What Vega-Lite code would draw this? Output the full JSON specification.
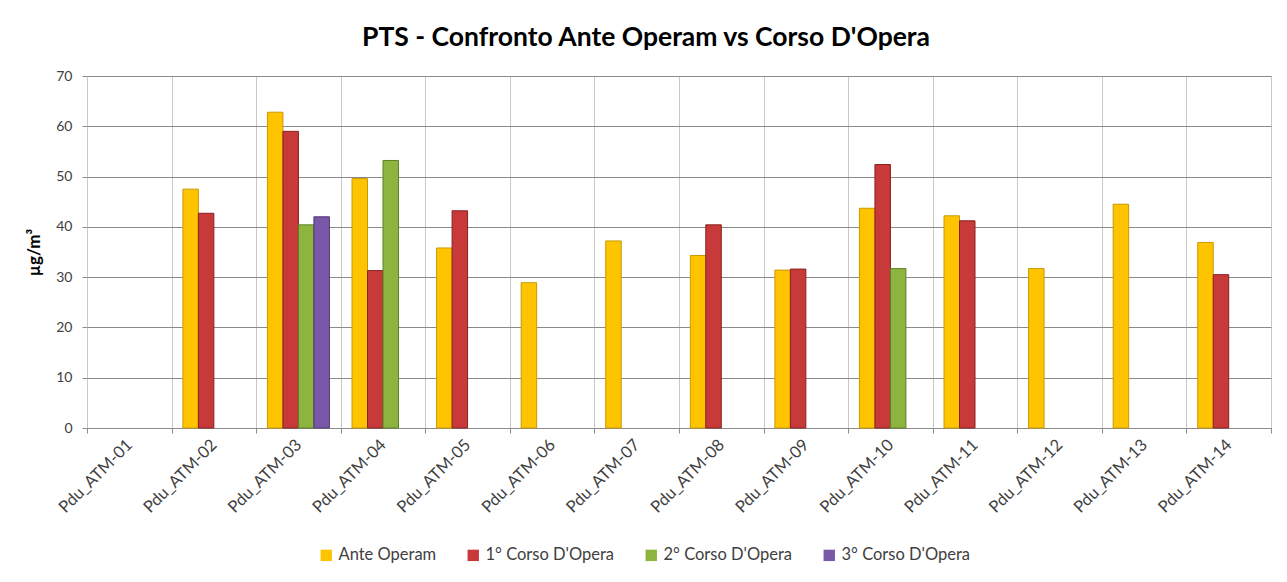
{
  "$schema": "https://vega.github.io/schema/vega-lite/v6.json",
  "width": 1184,
  "height": 352,
  "autosize": "none",
  "padding": {"left": 87, "top": 76, "right": 16, "bottom": 154},
  "background": "white",
  "title": {"text": "PTS - Confronto Ante Operam vs Corso D'Opera", "font": "Lato", "fontSize": 26.5, "fontWeight": "bold", "color": "#000000", "anchor": "middle", "offset": 18, "dx": -33},
  "data": {"values": [
    {"stazione": "Pdu_ATM-02", "serie": "Ante Operam", "valore": 47.5},
    {"stazione": "Pdu_ATM-02", "serie": "1° Corso D'Opera", "valore": 42.7},
    {"stazione": "Pdu_ATM-03", "serie": "Ante Operam", "valore": 62.8},
    {"stazione": "Pdu_ATM-03", "serie": "1° Corso D'Opera", "valore": 59.0},
    {"stazione": "Pdu_ATM-03", "serie": "2° Corso D'Opera", "valore": 40.4},
    {"stazione": "Pdu_ATM-03", "serie": "3° Corso D'Opera", "valore": 42.0},
    {"stazione": "Pdu_ATM-04", "serie": "Ante Operam", "valore": 49.6},
    {"stazione": "Pdu_ATM-04", "serie": "1° Corso D'Opera", "valore": 31.3},
    {"stazione": "Pdu_ATM-04", "serie": "2° Corso D'Opera", "valore": 53.2},
    {"stazione": "Pdu_ATM-05", "serie": "Ante Operam", "valore": 35.8},
    {"stazione": "Pdu_ATM-05", "serie": "1° Corso D'Opera", "valore": 43.2},
    {"stazione": "Pdu_ATM-06", "serie": "Ante Operam", "valore": 28.9},
    {"stazione": "Pdu_ATM-07", "serie": "Ante Operam", "valore": 37.2},
    {"stazione": "Pdu_ATM-08", "serie": "Ante Operam", "valore": 34.3},
    {"stazione": "Pdu_ATM-08", "serie": "1° Corso D'Opera", "valore": 40.4},
    {"stazione": "Pdu_ATM-09", "serie": "Ante Operam", "valore": 31.4},
    {"stazione": "Pdu_ATM-09", "serie": "1° Corso D'Opera", "valore": 31.6},
    {"stazione": "Pdu_ATM-10", "serie": "Ante Operam", "valore": 43.7},
    {"stazione": "Pdu_ATM-10", "serie": "1° Corso D'Opera", "valore": 52.4},
    {"stazione": "Pdu_ATM-10", "serie": "2° Corso D'Opera", "valore": 31.7},
    {"stazione": "Pdu_ATM-11", "serie": "Ante Operam", "valore": 42.2},
    {"stazione": "Pdu_ATM-11", "serie": "1° Corso D'Opera", "valore": 41.2},
    {"stazione": "Pdu_ATM-12", "serie": "Ante Operam", "valore": 31.7},
    {"stazione": "Pdu_ATM-13", "serie": "Ante Operam", "valore": 44.5},
    {"stazione": "Pdu_ATM-14", "serie": "Ante Operam", "valore": 36.9},
    {"stazione": "Pdu_ATM-14", "serie": "1° Corso D'Opera", "valore": 30.5}
  ]},
  "mark": {"type": "bar", "strokeWidth": 1},
  "encoding": {
    "x": {
      "field": "stazione", "type": "nominal",
      "scale": {"domain": ["Pdu_ATM-01","Pdu_ATM-02","Pdu_ATM-03","Pdu_ATM-04","Pdu_ATM-05","Pdu_ATM-06","Pdu_ATM-07","Pdu_ATM-08","Pdu_ATM-09","Pdu_ATM-10","Pdu_ATM-11","Pdu_ATM-12","Pdu_ATM-13","Pdu_ATM-14"], "paddingInner": 0, "paddingOuter": 0},
      "axis": {"title": null, "labelAngle": -45, "labelAlign": "right", "labelBaseline": "middle", "tickBand": "extent", "grid": true, "gridColor": "#c8c8c8", "gridWidth": 1, "domainColor": "#8c8c8c", "tickColor": "#8c8c8c", "tickSize": 5, "labelFont": "Lato", "labelFontSize": 16.5, "labelColor": "#404040", "labelPadding": 9}
    },
    "xOffset": {
      "field": "serie", "type": "nominal",
      "scale": {"domain": ["Ante Operam", "1° Corso D'Opera", "2° Corso D'Opera", "3° Corso D'Opera"], "paddingInner": 0, "paddingOuter": 0.73}
    },
    "y": {
      "field": "valore", "type": "quantitative",
      "scale": {"domain": [0, 70], "nice": false},
      "axis": {"values": [0, 10, 20, 30, 40, 50, 60, 70], "title": "µg/m³", "titleFont": "Lato", "titleFontSize": 17, "titleFontWeight": "bold", "titleColor": "#000000", "titlePadding": 12, "labelFont": "Lato", "labelFontSize": 14, "labelColor": "#404040", "labelPadding": 10, "tickSize": 5, "tickColor": "#8c8c8c", "domain": false, "grid": true, "gridColor": "#8a8a8a", "gridWidth": 1}
    },
    "color": {
      "field": "serie", "type": "nominal",
      "scale": {"domain": ["Ante Operam", "1° Corso D'Opera", "2° Corso D'Opera", "3° Corso D'Opera"], "range": ["#FFC400", "#C83A3A", "#8DB43E", "#7A58A8"]},
      "legend": {"title": null, "orient": "none", "legendX": 231, "legendY": 471, "direction": "horizontal", "symbolType": "square", "symbolSize": 130, "symbolStrokeWidth": 0, "labelFont": "Lato", "labelFontSize": 16.5, "labelColor": "#404040", "columnPadding": 28, "labelLimit": 300}
    },
    "stroke": {
      "field": "serie", "type": "nominal",
      "scale": {"domain": ["Ante Operam", "1° Corso D'Opera", "2° Corso D'Opera", "3° Corso D'Opera"], "range": ["#C99A00", "#8A2020", "#5E8026", "#4E3878"]},
      "legend": null
    }
  },
  "config": {"view": {"stroke": "#c8c8c8"}}
}
